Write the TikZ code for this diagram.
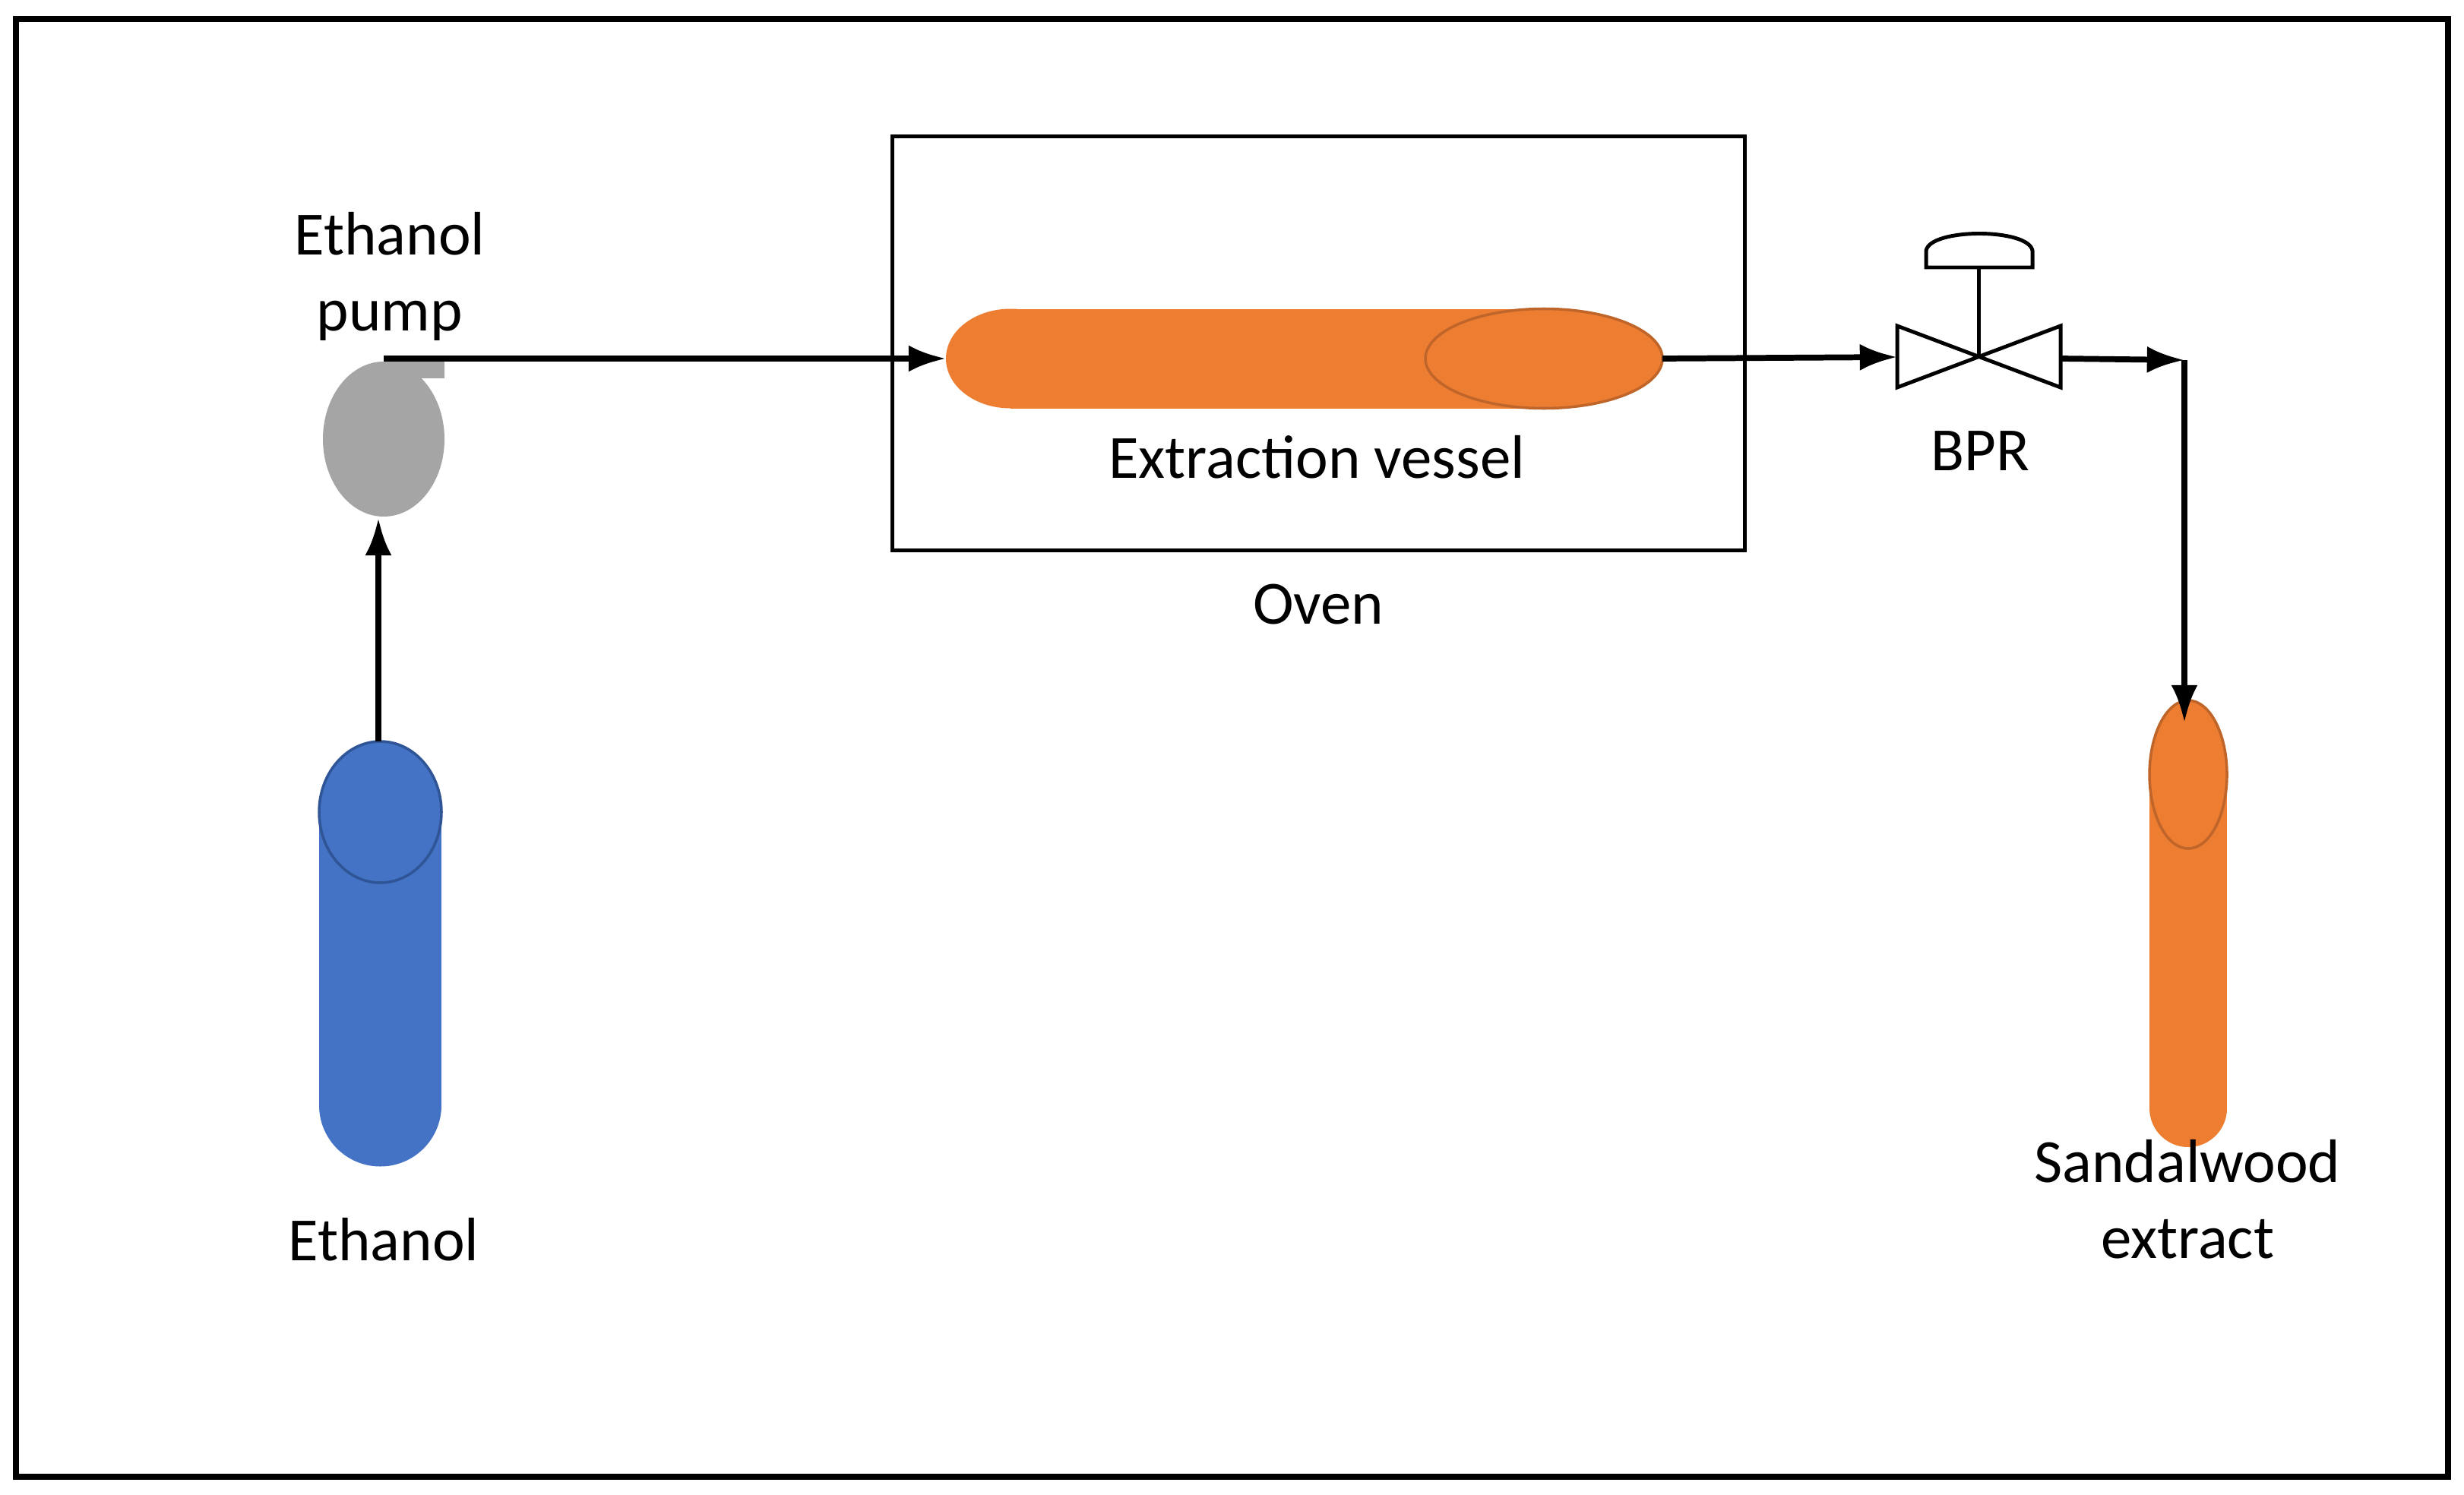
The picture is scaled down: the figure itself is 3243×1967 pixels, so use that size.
\documentclass[tikz,border=0pt]{standalone}
\usepackage{fontspec}
\setmainfont{Carlito}
\usetikzlibrary{arrows.meta}
\definecolor{orng}{HTML}{ED7D31}
\definecolor{orngd}{HTML}{C0652A}
\definecolor{blu}{HTML}{4472C4}
\definecolor{blud}{HTML}{2F5597}
\definecolor{gry}{HTML}{A5A5A5}
\begin{document}
\begin{tikzpicture}[x=0.01cm,y=-0.01cm,
  lbl/.style={font=\fontsize{23}{28.5}\selectfont,align=center,inner sep=0},
  flow/.style={line width=2.2pt,-{Latex[length=14pt,width=10pt]}},
  thin/.style={line width=1.4pt}]
\useasboundingbox (0,0) rectangle (3243,1967);
\draw[line width=2.5pt] (21,25) rectangle (3222,1944);
% oven
\node[draw,thin,minimum width=11.21cm,minimum height=5.44cm,inner sep=0] (oven) at (1735.5,452) {};
\node[lbl] (ovenl) at (1735,796) {Oven};
% vessel
\fill[orng] (1330,407) rectangle (2032,538);
\fill[orng] (1330,472) ellipse[x radius=85,y radius=65.5];
\fill[orng,draw=orngd,line width=1pt] (2032,472) ellipse[x radius=156,y radius=65.5];
\coordinate (vin) at (1245,472);
\coordinate (vout) at (2188,472);
\node[lbl] (vlbl) at (1733,602) {Extraction vessel};
% pump
\fill[gry] (505,578) ellipse[x radius=80,y radius=102];
\fill[gry] (505,475) rectangle (585,498);
\coordinate (pout) at (505,472);
\coordinate (pin) at (498,682);
\node[lbl] (plbl) at (513,364) {Ethanol\\pump};
% ethanol cylinder
\fill[blu] (420,1069) rectangle (581,1455);
\fill[blu] (500.5,1455) circle[radius=80.5];
\fill[blu,draw=blud,line width=1pt] (500.5,1069) ellipse[x radius=80.5,y radius=93];
\coordinate (eout) at (498,976);
\node[lbl] (elbl) at (505,1632) {Ethanol};
% sandalwood cylinder
\fill[orng] (2829,1019.5) rectangle (2931,1459);
\fill[orng] (2880,1459) circle[radius=51];
\fill[orng,draw=orngd,line width=1pt] (2880,1019.5) ellipse[x radius=51,y radius=97.5];
\coordinate (sin) at (2875,951);
\node[lbl] (slbl) at (2879,1579) {Sandalwood\\extract};
% BPR valve
\draw[thin] (2497,429) -- (2712,510) -- (2712,429) -- (2497,510) -- cycle;
\coordinate (vlft) at (2497,470);
\coordinate (vrgt) at (2712,472);
\draw[thin] (2604,470) -- (2604,352);
\draw[thin] (2535,352) -- (2535,330) .. controls (2540,300) and (2670,300) .. (2675,330) -- (2675,352) -- cycle;
\node[lbl] (blbl) at (2606,594) {BPR};
\coordinate (corner) at (2875,474);
% flows
\draw[flow] (eout) -- (pin);
\draw[flow] (pout) -- (vin);
\draw[flow] (vout) -- (vlft);
\draw[flow] (vrgt) -- (corner);
\draw[flow] (corner) -- (sin);
\end{tikzpicture}
\end{document}
